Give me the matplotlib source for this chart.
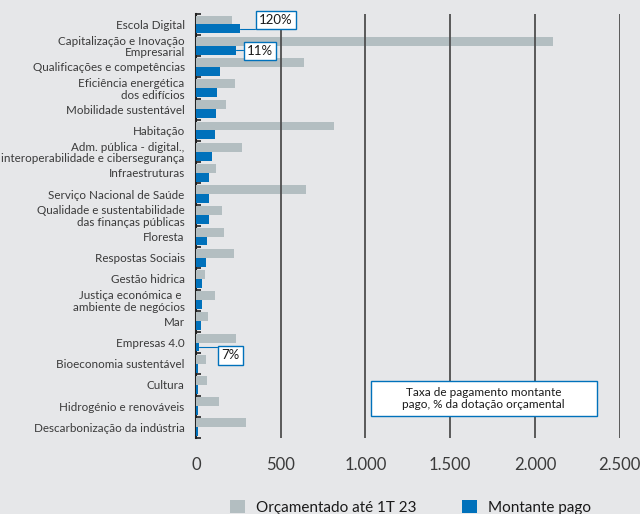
import matplotlib.pyplot as plt
import numpy as np
from matplotlib import font_manager
from matplotlib.patches import Rectangle

# fonte condensada se existir
nomes = {f.name for f in font_manager.fontManager.ttflist}
fonte = 'Liberation Sans Narrow' if 'Liberation Sans Narrow' in nomes else 'Lato'
plt.rcParams['font.family'] = [fonte, 'DejaVu Sans']

categorias = ['Escola Digital', 'Capitalização e Inovação\nEmpresarial',
              'Qualificações e competências', 'Eficiência energética\ndos edifícios',
              'Mobilidade sustentável', 'Habitação',
              'Adm. pública - digital.,\ninteroperabilidade e cibersegurança',
              'Infraestruturas', 'Serviço Nacional de Saúde',
              'Qualidade e sustentabilidade\ndas finanças públicas', 'Floresta',
              'Respostas Sociais', 'Gestão hidrica',
              'Justiça económica e \nambiente de negócios', 'Mar', 'Empresas 4.0',
              'Bioeconomia sustentável', 'Cultura', 'Hidrogénio e renováveis',
              'Descarbonização da indústria']
orcamentado = [215, 2106, 635, 229, 176, 812, 270, 118, 647, 153,
               165, 224, 53, 112, 70, 235, 59, 65, 135, 294]
pago = [258, 235, 141, 124, 118, 112, 94, 76, 76, 76,
        65, 59, 35, 35, 29, 18, 14, 14, 14, 12]
taxas = {0: '120%', 1: '11%', 15: '7%'}
xticks = [0, 500, 1000, 1500, 2000, 2500]
xticklabels = ['0', '500', '1.000', '1.500', '2.000', '2.500']

fundo = '#e6e7e9'
cinza = '#b3bec1'
azul = '#0071bb'
texto = '#3a3a3a'

fig = plt.figure(figsize=(6.4, 5.14), dpi=100, facecolor=fundo)
ax = fig.add_axes([0.306, 0.148, 0.6625, 0.825], facecolor=fundo)

y = np.arange(len(categorias))
h = 0.42
ax.barh(y - 0.21, orcamentado, height=h, color=cinza, zorder=1)
ax.barh(y + 0.21, pago, height=h, color=azul, zorder=1)

ax.set_xlim(0, 2500)
ax.set_ylim(len(categorias) - 0.5, -0.5)

for v in xticks[1:]:
    ax.axvline(v, color='#4f4f4f', lw=1.3, zorder=3)

for s in ['top', 'right', 'bottom']:
    ax.spines[s].set_visible(False)
ax.spines['left'].set_color('#222222')
ax.spines['left'].set_linewidth(1.5)
ax.spines['left'].set_zorder(0.5)

ax.set_yticks(y)
ax.set_yticklabels(categorias, fontsize=8.4, color=texto, linespacing=1.05)
ax.set_yticks(np.arange(len(categorias) + 1) - 0.5, minor=True)
ax.tick_params(axis='y', which='major', length=0, pad=8)
ax.tick_params(axis='y', which='minor', direction='in', length=3.5, width=1.2, color='#222222')

ax.set_xticks(xticks)
ax.set_xticklabels(xticklabels, fontsize=12, color=texto)
ax.tick_params(axis='x', length=0, pad=14)

# etiquetas de taxa de pagamento
deslocs = {0: (14, 6.5), 1: (8, -0.5), 15: (16, -6)}
angulos = {0: 45, 1: 45, 15: -35}
for i, txt in taxas.items():
    dx, dy = deslocs[i]
    ax.annotate(txt, xy=(pago[i], y[i] + 0.21), xytext=(dx, dy), textcoords='offset points',
                ha='left', va='center', fontsize=9.5, color='#1a1a1a',
                bbox=dict(boxstyle='square,pad=0.25', fc='white', ec=azul, lw=1),
                arrowprops=dict(arrowstyle='-', color=azul, lw=0.8, shrinkA=0, shrinkB=0,
                                connectionstyle=f'angle,angleA={angulos[i]},angleB=0,rad=0'),
                zorder=5)

# caixa explicativa
ax.add_patch(Rectangle((0.413, 0.052), 0.533, 0.082, transform=ax.transAxes,
                       fc='white', ec=azul, lw=1, zorder=5))
ax.text(0.679, 0.093, 'Taxa de pagamento montante\npago, % da dotação orçamental',
        transform=ax.transAxes, ha='center', va='center', fontsize=8.5,
        color='#1a1a1a', linespacing=1.2, zorder=6)

# legenda
estilo = dict(loc='center left', frameon=False, fontsize=11, handlelength=1.0,
              handleheight=1.0, handletextpad=0.7, borderpad=0, borderaxespad=0,
              labelcolor='#1a1a1a')
fig.legend([Rectangle((0, 0), 1, 1, fc=cinza)], ['Orçamentado até 1T 23'],
           bbox_to_anchor=(230 / 640, 0.013), **estilo)
fig.legend([Rectangle((0, 0), 1, 1, fc=azul)], ['Montante pago'],
           bbox_to_anchor=(462 / 640, 0.013), **estilo)

fig.savefig('out.png', dpi=100, facecolor=fundo)
